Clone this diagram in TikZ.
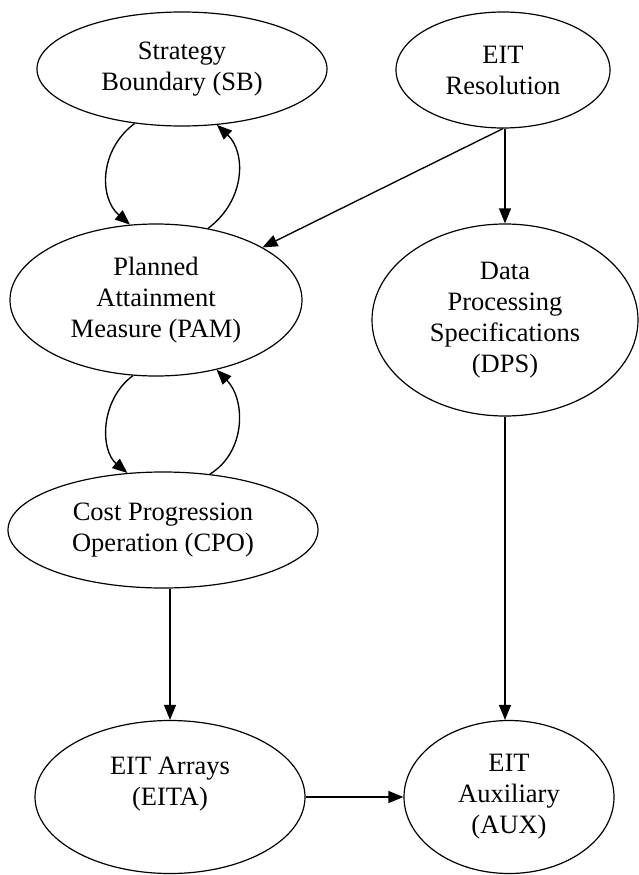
\documentclass[tikz,border=0pt]{standalone}
\usepackage{fontspec}
\setmainfont{Liberation Serif}
\usetikzlibrary{shapes.geometric,arrows.meta}
\begin{document}
\begin{tikzpicture}[x=1pt,y=-1pt,
  oval/.style={draw=black, line width=1.2pt, ellipse, inner sep=0pt, align=center,
               font=\fontsize{26.5}{31}\selectfont},
  arr/.style={draw=black, line width=1.35pt, -{Triangle[length=15pt,width=12pt]}}]
\useasboundingbox (0,0) rectangle (639,875);
\fill[white] (0,0) rectangle (639,875);

\node[oval, minimum width=290pt, minimum height=114pt] (sb)   at (182,69)  {Strategy\\Boundary (SB)};
\node[oval, minimum width=214pt, minimum height=116pt] (eit)  at (503,70)  {EIT\\Resolution};
\node[oval, minimum width=292pt, minimum height=152pt] (pam)  at (156,300) {Planned\\Attainment\\Measure (PAM)};
\node[oval, minimum width=266pt, minimum height=192pt] (dps)  at (505,320) {Data\\Processing\\Specifications\\(DPS)};
\node[oval, minimum width=310pt, minimum height=116pt] (cpo)  at (163,530) {Cost Progression\\Operation (CPO)};
\node[oval, minimum width=270pt, minimum height=153pt] (eita) at (170,797) {EIT Arrays\\(EITA)\\\mbox{}};
\node[oval, minimum width=210pt, minimum height=153pt] (aux)  at (509,797) {EIT\\Auxiliary\\(AUX)};

% SB <-> PAM loops
\draw[arr] (sb.229) .. controls (99,150) and (99,198) .. (pam.109);
\draw[arr] (pam.54) .. controls (246,200) and (246,152) .. (sb.302);
% PAM <-> CPO loops
\draw[arr] (pam.253) .. controls (100,400) and (100,450) .. (cpo.122);
\draw[arr] (cpo.50) .. controls (246,452) and (246,400) .. (pam.311.5);

% straight connectors
\draw[arr] (eit.south) -- (pam);
\draw[arr] (dps.north |- eit.south) -- (dps.north);
\draw[arr] (dps.south) -- (dps.south |- aux.north);
\draw[arr] (eita.north |- cpo.south) -- (eita.north);
\draw[arr] (eita.east) -- (aux.west);
\end{tikzpicture}
\end{document}
